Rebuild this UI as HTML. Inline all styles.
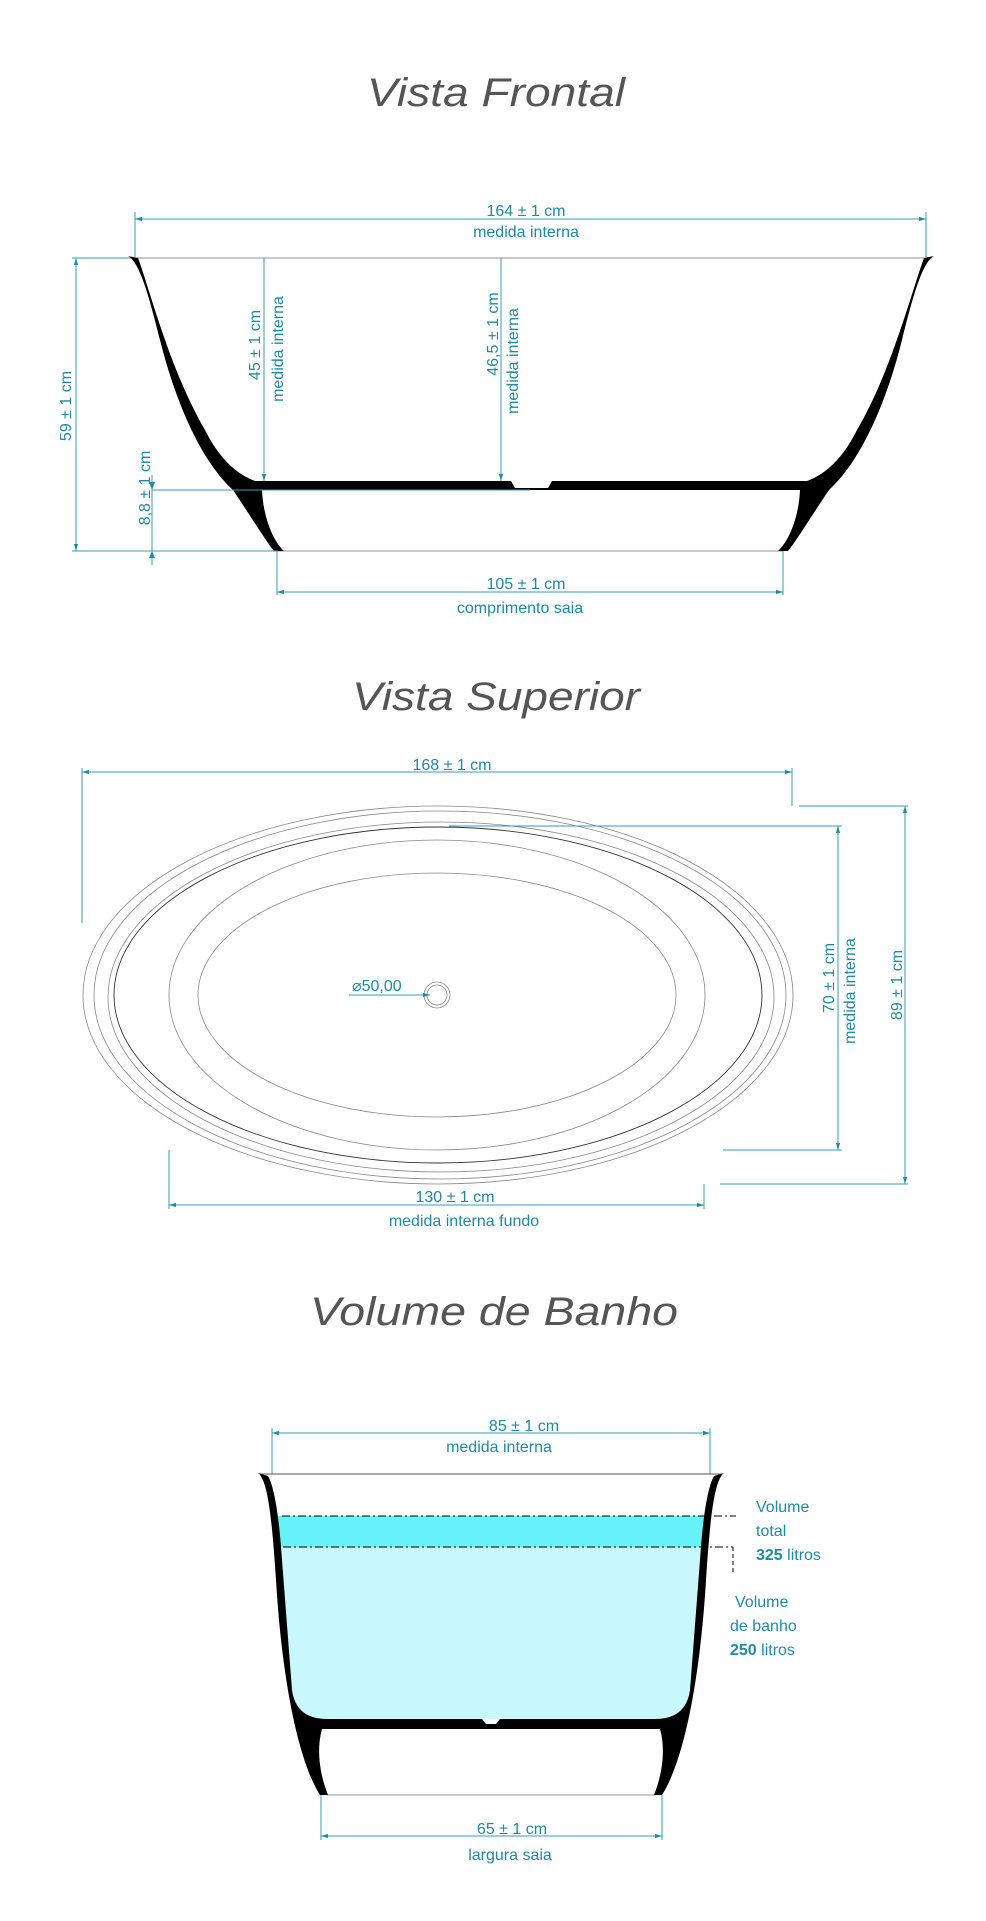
<!DOCTYPE html>
<html><head><meta charset="utf-8"><style>
html,body{margin:0;padding:0;background:#fff;}
svg{display:block;}
.t{font-family:"Liberation Sans",sans-serif;font-style:italic;fill:#555;font-size:40px;}
.d{font-family:"Liberation Sans",sans-serif;fill:#1f8aa3;font-size:16px;}
.dl{stroke:#3a9cb3;stroke-width:1;fill:none;}
.ol{stroke:#888;stroke-width:0.8;fill:none;}
</style></head><body>
<svg width="986" height="1921" viewBox="0 0 986 1921" xmlns="http://www.w3.org/2000/svg">
<defs>
<marker id="a" viewBox="0 0 10 10" refX="10" refY="5" markerWidth="7" markerHeight="7" orient="auto-start-reverse"><path d="M0,2 L10,5 L0,8 Z" fill="#1f8aa3"/></marker>
</defs>

<!-- ===== Vista Frontal ===== -->
<text class="t" x="496" y="106" text-anchor="middle" textLength="258" lengthAdjust="spacingAndGlyphs">Vista Frontal</text>

<line x1="130" y1="258" x2="932" y2="258" stroke="#aaa" stroke-width="1.2"/>
<line x1="278" y1="551" x2="783" y2="551" stroke="#aaa" stroke-width="1.2"/>

<path fill="#000" d="M128,256 C140,262 150,300 160,340 C175,400 200,460 233,490 C250,515 265,540 274,551 L284,551 C272,540 263,515 262,490 L800,490 C799,515 790,540 778,551 L788,551 C797,540 812,515 829,490 C862,460 887,400 902,340 C912,300 922,262 934,256 L924,258 C912,290 892,370 857,430 Q837,470 807,481 L552,481 L548,488 L515,488 L511,481 L255,481 Q225,470 205,430 C170,370 150,290 138,258 Z"/>

<!-- dims frontal -->
<line class="dl" x1="135" y1="219" x2="926" y2="219" marker-start="url(#a)" marker-end="url(#a)"/>
<line class="dl" x1="135" y1="212" x2="135" y2="258"/>
<line class="dl" x1="926" y1="212" x2="926" y2="258"/>
<text class="d" x="526" y="216" text-anchor="middle">164 ± 1 cm</text>
<text class="d" x="526" y="237" text-anchor="middle">medida interna</text>

<line class="dl" x1="72" y1="258" x2="130" y2="258"/>
<line class="dl" x1="76" y1="258" x2="76" y2="551" marker-start="url(#a)" marker-end="url(#a)"/>
<line class="dl" x1="72" y1="551" x2="278" y2="551"/>
<text class="d" transform="translate(71,406) rotate(-90)" text-anchor="middle">59 ± 1 cm</text>

<line class="dl" x1="264" y1="258" x2="264" y2="481" marker-end="url(#a)"/>
<text class="d" transform="translate(260,345) rotate(-90)" text-anchor="middle">45 ± 1 cm</text>
<text class="d" transform="translate(283,349) rotate(-90)" text-anchor="middle">medida interna</text>

<line class="dl" x1="501" y1="258" x2="501" y2="481" marker-end="url(#a)"/>
<text class="d" transform="translate(498,334) rotate(-90)" text-anchor="middle">46,5 ± 1 cm</text>
<text class="d" transform="translate(518,361) rotate(-90)" text-anchor="middle">medida interna</text>

<line class="dl" x1="152" y1="490" x2="530" y2="490"/>
<line class="dl" x1="152" y1="475" x2="152" y2="565"/>
<path d="M149,482 L155,482 L152,490 Z M149,558 L155,558 L152,551 Z" fill="#1f8aa3"/>
<text class="d" transform="translate(150,488) rotate(-90)" text-anchor="middle">8,8 ± 1 cm</text>

<line class="dl" x1="277" y1="551" x2="277" y2="595"/>
<line class="dl" x1="783" y1="551" x2="783" y2="595"/>
<line class="dl" x1="277" y1="592" x2="783" y2="592" marker-start="url(#a)" marker-end="url(#a)"/>
<text class="d" x="526" y="589" text-anchor="middle">105 ± 1 cm</text>
<text class="d" x="520" y="613" text-anchor="middle">comprimento saia</text>

<!-- ===== Vista Superior ===== -->
<text class="t" x="496" y="710" text-anchor="middle" textLength="288" lengthAdjust="spacingAndGlyphs">Vista Superior</text>

<line class="dl" x1="82" y1="772" x2="792" y2="772" marker-start="url(#a)" marker-end="url(#a)"/>
<line class="dl" x1="82" y1="768" x2="82" y2="923"/>
<line class="dl" x1="792" y1="768" x2="792" y2="806"/>
<text class="d" x="452" y="770" text-anchor="middle">168 ± 1 cm</text>

<ellipse class="ol" cx="438" cy="995" rx="355" ry="189"/>
<ellipse class="ol" cx="440" cy="995" rx="346" ry="184"/>
<ellipse class="ol" cx="441" cy="997" rx="333" ry="175"/>
<ellipse cx="438" cy="995" rx="324" ry="168" fill="none" stroke="#333" stroke-width="0.9"/>
<ellipse class="ol" cx="437" cy="995" rx="268" ry="155"/>
<ellipse class="ol" cx="437" cy="995" rx="239" ry="122"/>
<circle class="ol" cx="437" cy="995" r="13"/>
<circle class="ol" cx="437" cy="995" r="10"/>
<line class="dl" x1="349" y1="995" x2="430" y2="995" marker-end="url(#a)"/>
<text class="d" x="352" y="991" font-size="15">⌀50,00</text>

<line class="dl" x1="449" y1="826" x2="842" y2="826"/>
<line class="dl" x1="723" y1="1150" x2="842" y2="1150"/>
<line class="dl" x1="838" y1="826" x2="838" y2="1150" marker-start="url(#a)" marker-end="url(#a)"/>
<text class="d" transform="translate(834,978) rotate(-90)" text-anchor="middle">70 ± 1 cm</text>
<text class="d" transform="translate(855,991) rotate(-90)" text-anchor="middle">medida interna</text>

<line class="dl" x1="799" y1="806" x2="908" y2="806"/>
<line class="dl" x1="720" y1="1184" x2="908" y2="1184"/>
<line class="dl" x1="905" y1="806" x2="905" y2="1184" marker-start="url(#a)" marker-end="url(#a)"/>
<text class="d" transform="translate(902,985) rotate(-90)" text-anchor="middle">89 ± 1 cm</text>

<line class="dl" x1="169" y1="1150" x2="169" y2="1209"/>
<line class="dl" x1="704" y1="1184" x2="704" y2="1209"/>
<line class="dl" x1="169" y1="1205" x2="704" y2="1205" marker-start="url(#a)" marker-end="url(#a)"/>
<text class="d" x="455" y="1202" text-anchor="middle">130 ± 1 cm</text>
<text class="d" x="464" y="1226" text-anchor="middle">medida interna fundo</text>

<!-- ===== Volume de Banho ===== -->
<text class="t" x="494" y="1325" text-anchor="middle" textLength="368" lengthAdjust="spacingAndGlyphs">Volume de Banho</text>

<line class="dl" x1="272" y1="1433" x2="710" y2="1433" marker-start="url(#a)" marker-end="url(#a)"/>
<line class="dl" x1="272" y1="1428" x2="272" y2="1474"/>
<line class="dl" x1="710" y1="1428" x2="710" y2="1474"/>
<text class="d" x="524" y="1431" text-anchor="middle" font-size="18">85 ± 1 cm</text>
<text class="d" x="499" y="1452" text-anchor="middle" font-size="18">medida interna</text>

<line x1="260" y1="1474" x2="722" y2="1474" stroke="#777" stroke-width="1.2"/>

<rect x="278" y="1516" width="428" height="31" fill="#66f2f8"/>
<path fill="#c8f8fc" d="M280,1547 L292,1690 Q296,1719 327,1719 L655,1719 Q686,1719 690,1690 L702,1547 Z"/>

<line x1="282" y1="1516" x2="736" y2="1516" stroke="#000" stroke-width="1" stroke-dasharray="8,3,2,3"/>
<line x1="283" y1="1547" x2="733" y2="1547" stroke="#000" stroke-width="1" stroke-dasharray="8,3,2,3"/>
<line x1="733" y1="1547" x2="733" y2="1575" stroke="#000" stroke-width="1" stroke-dasharray="4,3"/>

<line x1="327" y1="1795" x2="655" y2="1795" stroke="#aaa" stroke-width="1.2"/>

<path fill="#000" d="M258,1473 C268,1480 272,1520 276,1580 C282,1680 298,1760 320,1795 L328,1795 C320,1775 316,1750 322,1729 L660,1729 C666,1750 662,1775 654,1795 L662,1795 C684,1760 700,1680 706,1580 C710,1520 714,1480 724,1473 L714,1476 C706,1490 702,1530 700,1560 L690,1690 Q686,1719 655,1719 L500,1719 L496,1724 L486,1724 L482,1719 L327,1719 Q296,1719 292,1690 L282,1560 C280,1530 276,1490 268,1476 Z"/>

<line class="dl" x1="321" y1="1795" x2="321" y2="1840"/>
<line class="dl" x1="662" y1="1795" x2="662" y2="1840"/>
<line class="dl" x1="321" y1="1836" x2="662" y2="1836" marker-start="url(#a)" marker-end="url(#a)"/>
<text class="d" x="512" y="1834" text-anchor="middle" font-size="18">65 ± 1 cm</text>
<text class="d" x="510" y="1860" text-anchor="middle" font-size="18">largura saia</text>

<text class="d" font-size="19"><tspan x="756" y="1512">Volume</tspan><tspan x="756" y="1536">total</tspan><tspan x="756" y="1560" font-weight="bold">325</tspan><tspan> litros</tspan></text>
<text class="d" font-size="19"><tspan x="735" y="1607">Volume</tspan><tspan x="730" y="1631">de banho</tspan><tspan x="730" y="1655" font-weight="bold">250</tspan><tspan> litros</tspan></text>
</svg>
</body></html>
